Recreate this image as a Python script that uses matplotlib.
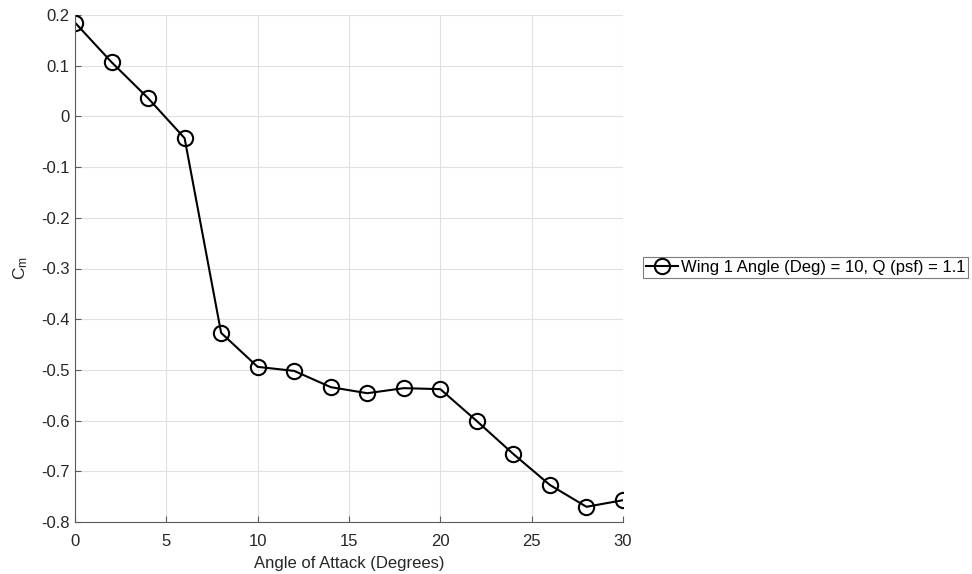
import matplotlib
matplotlib.use("Agg")
import matplotlib.pyplot as plt

plt.rcParams['font.family'] = ['Liberation Sans', 'DejaVu Sans']

aoa = [0, 2, 4, 6, 8, 10, 12, 14, 16, 18, 20, 22, 24, 26, 28, 30]
cm = [0.185, 0.107, 0.036, -0.043, -0.427, -0.494, -0.502, -0.534,
      -0.546, -0.536, -0.538, -0.601, -0.666, -0.727, -0.770, -0.757]
label = 'Wing 1 Angle (Deg) = 10, Q (psf) = 1.1'

fig = plt.figure(figsize=(9.72, 5.74), dpi=100)
ax = fig.add_axes([75 / 972, 1 - 522 / 574, 548 / 972, 507 / 574])

ax.plot(aoa, cm, color='black', linewidth=1.5, marker='o', markersize=11,
        markerfacecolor='none', markeredgewidth=1.5, label=label)

ax.set_xlim(0, 30)
ax.set_ylim(-0.8, 0.2)
ax.set_xticks(range(0, 31, 5))
ax.set_yticks([0.2, 0.1, 0, -0.1, -0.2, -0.3, -0.4, -0.5, -0.6, -0.7, -0.8])
ax.set_yticklabels(['0.2', '0.1', '0', '-0.1', '-0.2', '-0.3', '-0.4',
                    '-0.5', '-0.6', '-0.7', '-0.8'])
ax.grid(True, color='#e0e0e0', linewidth=0.8)
ax.set_axisbelow(True)

for s in ['top', 'right']:
    ax.spines[s].set_visible(False)
for s in ['left', 'bottom']:
    ax.spines[s].set_color('#5a5a5a')
    ax.spines[s].set_linewidth(0.8)
ax.tick_params(direction='in', length=4, colors='#5a5a5a', labelsize=12,
               labelcolor='#262626')
ax.tick_params(axis='x', pad=9)
ax.tick_params(axis='y', pad=4)

ax.set_xlabel('Angle of Attack (Degrees)', fontsize=12, color='#262626',
              labelpad=5)
ax.set_ylabel(r'$\mathregular{C_m}$', fontsize=12.5, color='#262626',
              labelpad=8)

leg = ax.legend(loc='center left', bbox_to_anchor=(643 / 972, 1 - 267.5 / 574),
                bbox_transform=fig.transFigure, fontsize=12,
                frameon=True, fancybox=False, handlelength=1.9,
                borderpad=0.2, handletextpad=0.15, borderaxespad=0)
leg.get_frame().set_edgecolor('#5a5a5a')
leg.get_frame().set_linewidth(0.8)

fig.savefig('out.png', dpi=100)
